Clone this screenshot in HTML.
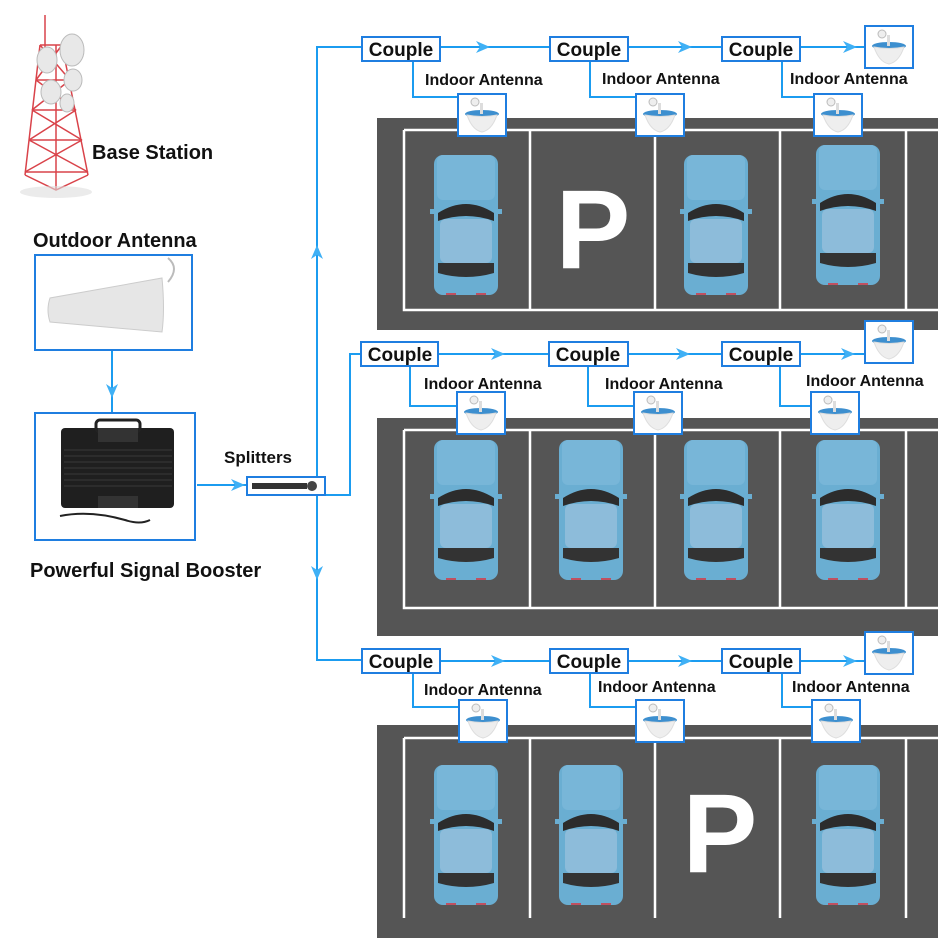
<!DOCTYPE html>
<html><head><meta charset="utf-8"><style>
html,body{margin:0;padding:0;background:#fff}
svg{display:block}
text{font-family:"Liberation Sans",sans-serif}
</style></head><body>
<svg width="938" height="938" viewBox="0 0 938 938" xmlns="http://www.w3.org/2000/svg">
<defs>
<g id="car">
<rect x="0" y="0" width="64" height="140" rx="9" fill="#6aaed2"/>
<rect x="3" y="0" width="58" height="45" rx="6" fill="#78b6d8"/>
<path d="M4 58 Q32 40 60 58 L60 66 Q32 56 4 66Z" fill="#2c2c2c"/>
<rect x="6" y="64" width="52" height="44" rx="6" fill="#8dbcda"/>
<path d="M4 108 L60 108 L60 118 Q32 126 4 118Z" fill="#333"/>
<rect x="-4" y="54" width="6" height="5" fill="#6aaed2"/>
<rect x="62" y="54" width="6" height="5" fill="#6aaed2"/>
<rect x="12" y="138" width="10" height="2" fill="#c05060"/>
<rect x="42" y="138" width="10" height="2" fill="#c05060"/>
</g>
<g id="ant">
<rect x="0" y="0" width="48" height="42" fill="#fff" stroke="#1f7ee0" stroke-width="2"/>
<ellipse cx="24" cy="20" rx="17" ry="4" fill="#3d8fcf"/>
<path d="M9 21 Q24 24 39 21 Q34 36 24 38 Q14 36 9 21Z" fill="#eee" stroke="#ddd"/>
<circle cx="17" cy="8" r="4" fill="#eee" stroke="#bbb"/>
<rect x="22" y="9" width="3" height="11" fill="#ddd"/>
</g>
<g id="arr"><path d="M-14 -6 L0 0 L-14 6 L-10 0Z" fill="#3fb0f5"/></g>
</defs>

<!-- parking lots -->
<g fill="#555"><rect x="377" y="118" width="561" height="212"/><rect x="377" y="418" width="561" height="218"/><rect x="377" y="725" width="561" height="213"/></g>
<g stroke="#fff" stroke-width="2.5" fill="none">
<path d="M404 130 H458 M506 130 H636 M684 130 H814 M860 130 H938 M404 130 V310 H938 M530 130 V310 M655 130 V310 M780 130 V310 M906 130 V310"/>
<path d="M404 430 H457 M505 430 H634 M682 430 H811 M858 430 H938 M404 430 V608 H938 M530 430 V608 M655 430 V608 M780 430 V608 M906 430 V608"/>
<path d="M404 738 H459 M507 738 H636 M684 738 H812 M860 738 H938 M404 738 V918 M530 738 V918 M655 738 V918 M780 738 V918 M906 738 V918"/>
</g>
<use href="#car" x="434" y="155"/><use href="#car" x="684" y="155"/><use href="#car" x="816" y="145"/>
<use href="#car" x="434" y="440"/><use href="#car" x="559" y="440"/><use href="#car" x="684" y="440"/><use href="#car" x="816" y="440"/>
<use href="#car" x="434" y="765"/><use href="#car" x="559" y="765"/><use href="#car" x="816" y="765"/>
<text x="593" y="268" font-size="112" font-weight="bold" fill="#fff" text-anchor="middle">P</text>
<text x="720" y="872" font-size="112" font-weight="bold" fill="#fff" text-anchor="middle">P</text>

<!-- connectors -->
<g stroke="#1b9cf0" stroke-width="2" fill="none">
<path d="M362 47 H317 V660 H362"/>
<path d="M325 495 H350 V354 H361"/>
<path d="M197 485 H247"/>
<path d="M112 350 V413"/>
<path d="M440 47 H550 M628 47 H722 M800 47 H865"/>
<path d="M438 354 H549 M628 354 H722 M800 354 H865"/>
<path d="M440 661 H550 M628 661 H722 M800 661 H865"/>
<path d="M413 61 V97 H458 M590 61 V97 H636 M782 61 V97 H814"/>
<path d="M410 366 V406 H457 M588 366 V406 H634 M780 366 V406 H811"/>
<path d="M413 673 V707 H459 M590 673 V707 H636 M782 673 V707 H812"/>
</g>
<use href="#arr" x="490" y="47"/><use href="#arr" x="692" y="47"/><use href="#arr" x="857" y="47"/>
<use href="#arr" x="505" y="354"/><use href="#arr" x="690" y="354"/><use href="#arr" x="855" y="354"/>
<use href="#arr" x="505" y="661"/><use href="#arr" x="692" y="661"/><use href="#arr" x="857" y="661"/>
<use href="#arr" x="245" y="485"/>
<use href="#arr" transform="translate(317 245) rotate(-90)"/>
<use href="#arr" transform="translate(317 580) rotate(90)"/>
<use href="#arr" transform="translate(112 398) rotate(90)"/>

<!-- couple boxes -->
<g fill="#fff" stroke="#1f7ee0" stroke-width="2">
<rect x="362" y="37" width="78" height="24"/><rect x="550" y="37" width="78" height="24"/><rect x="722" y="37" width="78" height="24"/>
<rect x="361" y="342" width="77" height="24"/><rect x="549" y="342" width="79" height="24"/><rect x="722" y="342" width="78" height="24"/>
<rect x="362" y="649" width="78" height="24"/><rect x="550" y="649" width="78" height="24"/><rect x="722" y="649" width="78" height="24"/>
</g>
<g font-size="19" font-weight="bold" fill="#111" text-anchor="middle">
<text x="401" y="56">Couple</text><text x="589" y="56">Couple</text><text x="761" y="56">Couple</text>
<text x="400" y="361">Couple</text><text x="588" y="361">Couple</text><text x="761" y="361">Couple</text>
<text x="401" y="668">Couple</text><text x="589" y="668">Couple</text><text x="761" y="668">Couple</text>
</g>
<g font-size="16" font-weight="bold" fill="#111">
<text x="425" y="85">Indoor Antenna</text><text x="602" y="84">Indoor Antenna</text><text x="790" y="84">Indoor Antenna</text>
<text x="424" y="389">Indoor Antenna</text><text x="605" y="389">Indoor Antenna</text><text x="806" y="386">Indoor Antenna</text>
<text x="424" y="695">Indoor Antenna</text><text x="598" y="692">Indoor Antenna</text><text x="792" y="692">Indoor Antenna</text>
</g>
<use href="#ant" x="458" y="94"/><use href="#ant" x="636" y="94"/><use href="#ant" x="814" y="94"/><use href="#ant" x="865" y="26"/>
<use href="#ant" x="457" y="392"/><use href="#ant" x="634" y="392"/><use href="#ant" x="811" y="392"/><use href="#ant" x="865" y="321"/>
<use href="#ant" x="459" y="700"/><use href="#ant" x="636" y="700"/><use href="#ant" x="812" y="700"/><use href="#ant" x="865" y="632"/>

<!-- tower -->
<g stroke="#d9434a" stroke-width="1.5" fill="none">
<path d="M45 15 V60"/>
<path d="M40 45 L25 175 M62 45 L88 175 M40 45 H62"/>
<path d="M36 80 H70 M32 110 H76 M29 140 H82 M25 172 H88"/>
<path d="M40 45 L70 80 M62 45 L36 80 M36 80 L76 110 M70 80 L32 110 M32 110 L82 140 M76 110 L29 140 M29 140 L88 172 M82 140 L25 172 M56 45 V190 M25 175 L56 190 L88 175"/>
</g>
<g fill="#e8e8e8" stroke="#bbb">
<ellipse cx="72" cy="50" rx="12" ry="16"/><ellipse cx="47" cy="60" rx="10" ry="13"/><ellipse cx="73" cy="80" rx="9" ry="11"/><ellipse cx="51" cy="92" rx="10" ry="12"/><ellipse cx="67" cy="103" rx="7" ry="9"/>
</g>
<ellipse cx="56" cy="192" rx="36" ry="6" fill="#ddd" opacity="0.6"/>
<text x="92" y="159" font-size="20" font-weight="bold" fill="#111">Base Station</text>
<text x="33" y="247" font-size="20" font-weight="bold" fill="#111">Outdoor Antenna</text>
<rect x="35" y="227" width="0" height="0"/>
<rect x="35" y="255" width="157" height="95" fill="#fff" stroke="#1f7ee0" stroke-width="2"/>
<path d="M50 298 Q46 310 50 322 L162 332 Q165 310 162 278 Z" fill="#e6e6e6" stroke="#ccc"/>
<path d="M168 282 Q180 268 168 258" stroke="#bbb" fill="none" stroke-width="2"/>
<rect x="35" y="413" width="160" height="127" fill="#fff" stroke="#1f7ee0" stroke-width="2"/>
<rect x="60" y="385" width="0" height="0"/>
<rect x="61" y="428" width="113" height="80" rx="4" fill="#1f1f1f"/>
<rect x="96" y="420" width="44" height="12" rx="4" fill="none" stroke="#222" stroke-width="3"/>
<rect x="98" y="428" width="40" height="14" fill="#333"/>
<rect x="98" y="496" width="40" height="12" fill="#333"/>
<g stroke="#3a3a3a" stroke-width="1"><path d="M64 450 H172 M64 456 H172 M64 462 H172 M64 468 H172 M64 474 H172 M64 480 H172 M64 486 H172"/></g>
<path d="M60 516 Q90 510 125 520 Q140 525 150 520" stroke="#222" stroke-width="2" fill="none"/>
<text x="224" y="463" font-size="17" font-weight="bold" fill="#111">Splitters</text>
<rect x="247" y="477" width="78" height="18" fill="#fff" stroke="#1f7ee0" stroke-width="2"/>
<rect x="252" y="483" width="55" height="6" fill="#333"/>
<circle cx="312" cy="486" r="5" fill="#444"/>
<text x="30" y="577" font-size="20" font-weight="bold" fill="#111">Powerful Signal Booster</text>
</svg>
</body></html>
